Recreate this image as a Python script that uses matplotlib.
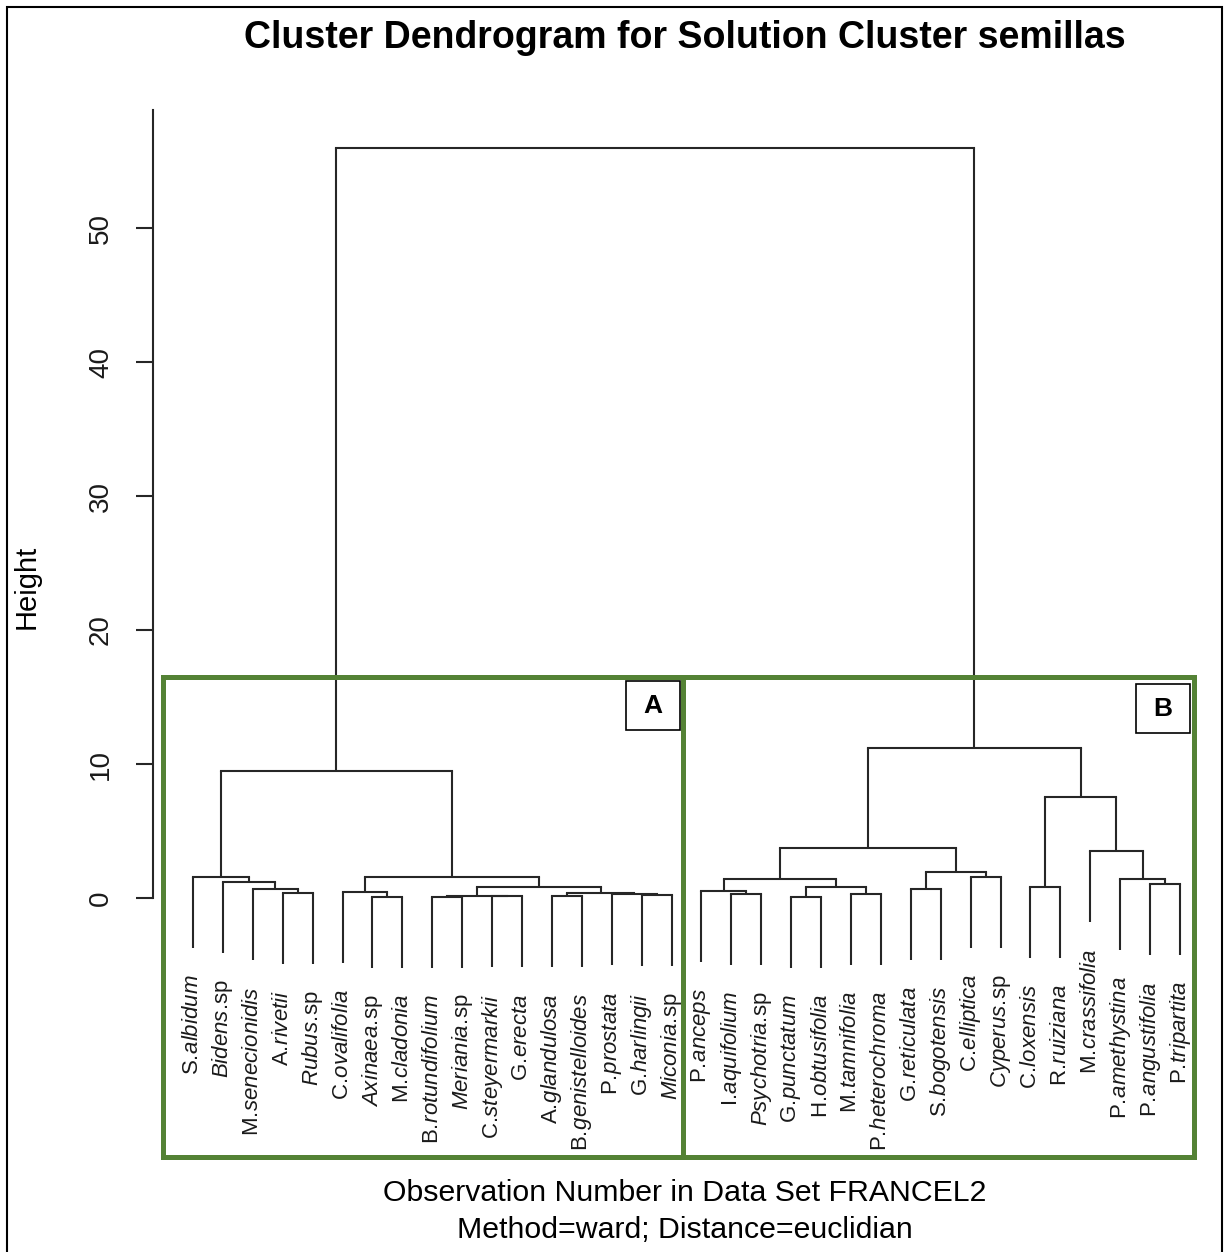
import numpy as np
import matplotlib
matplotlib.use("Agg")
import matplotlib.pyplot as plt
from matplotlib.patches import Rectangle

plt.rcParams['font.family'] = ['Liberation Sans', 'DejaVu Sans']
plt.rcParams['mathtext.fontset'] = 'custom'
plt.rcParams['mathtext.rm'] = 'Liberation Sans'
plt.rcParams['mathtext.it'] = 'Liberation Sans:italic'

# leaf order of the dendrogram
especies = ["S.albidum", "Bidens.sp", "M.senecionidis", "A.rivetii", "Rubus.sp",
            "C.ovalifolia", "Axinaea.sp", "M.cladonia", "B.rotundifolium",
            "Meriania.sp", "C.steyermarkii", "G.erecta", "A.glandulosa",
            "B.genistelloides", "P.prostata", "G.harlingii", "Miconia.sp",
            "P.anceps", "I.aquifolium", "Psychotria.sp", "G.punctatum",
            "H.obtusifolia", "M.tamnifolia", "P.heterochroma", "G.reticulata",
            "S.bogotensis", "C.elliptica", "Cyperus.sp", "C.loxensis",
            "R.ruiziana", "M.crassifolia", "P.amethystina", "P.angustifolia",
            "P.tripartita"]

# merges: (left, right, height); str = leaf, int = earlier merge
fusiones = [
    ("A.rivetii", "Rubus.sp", 0.37),
    ("M.senecionidis", 0, 0.67),
    ("Bidens.sp", 1, 1.22),
    ("S.albidum", 2, 1.57),
    ("Axinaea.sp", "M.cladonia", 0.10),
    ("C.ovalifolia", 4, 0.45),
    ("B.rotundifolium", "Meriania.sp", 0.10),
    ("C.steyermarkii", "G.erecta", 0.12),
    (6, 7, 0.15),
    ("A.glandulosa", "B.genistelloides", 0.15),
    ("G.harlingii", "Miconia.sp", 0.20),
    ("P.prostata", 10, 0.28),
    (9, 11, 0.37),
    (8, 12, 0.82),
    (5, 13, 1.60),
    (3, 14, 9.48),
    ("I.aquifolium", "Psychotria.sp", 0.30),
    ("P.anceps", 16, 0.52),
    ("G.punctatum", "H.obtusifolia", 0.10),
    ("M.tamnifolia", "P.heterochroma", 0.30),
    (18, 19, 0.82),
    (17, 20, 1.42),
    ("G.reticulata", "S.bogotensis", 0.67),
    ("C.elliptica", "Cyperus.sp", 1.57),
    (22, 23, 1.94),
    (21, 24, 3.73),
    ("C.loxensis", "R.ruiziana", 0.82),
    ("P.angustifolia", "P.tripartita", 1.04),
    ("P.amethystina", 27, 1.42),
    ("M.crassifolia", 28, 3.50),
    (26, 29, 7.54),
    (25, 30, 11.20),
    (15, 31, 56.00),
]

yticks = [0, 10, 20, 30, 40, 50]
hang = 5.3

W, H = 1226, 1252
def fx(x):
    return x / W
def fy(y):
    return 1 - y / H

fig = plt.figure(figsize=(W / 100, H / 100), dpi=100)
ax = fig.add_axes([fx(153), fy(1160), (1200 - 153) / W, (1160 - 110) / H])

pos = {n: i + 1 for i, n in enumerate(especies)}
nodo_x = []
color = '#262626'
lw = 1.5

def nombre(n):
    # genus abbreviation upright, epithet italic; \! cancels the space mathtext puts after '.'
    if n.endswith(".sp"):
        return r"$\mathit{%s}\mathrm{.\!sp}$" % n[:-3]
    g, e = n.split(".", 1)
    return r"$\mathrm{%s.}\!\mathit{%s}$" % (g, e)

for a, b, h in fusiones:
    xs = []
    for c in (a, b):
        if isinstance(c, str):
            x = pos[c]
            y0 = h - hang
            ax.text(x, y0 - 1.95, nombre(c), rotation=90, ha='center', va='top',
                    fontsize=16, color='#1a1a1a', clip_on=False)
        else:
            x = nodo_x[c]
            y0 = fusiones[c][2]
        ax.plot([x, x], [y0, h], color=color, lw=lw, solid_capstyle='butt')
        xs.append(x)
    ax.plot(xs, [h, h], color=color, lw=lw, solid_capstyle='projecting')
    nodo_x.append(np.mean(xs))

ax.set_xlim(1 - 40 / 29.91, 34 + 20 / 29.91)
ax.set_ylim((898 - 1160) / 13.4, (898 - 110) / 13.4)
for s in ['top', 'right', 'bottom']:
    ax.spines[s].set_visible(False)
ax.spines['left'].set_bounds(0, (898 - 110) / 13.4)
ax.spines['left'].set_linewidth(1.5)
ax.spines['left'].set_color(color)
ax.set_xticks([])
ax.set_yticks(yticks)
ax.set_yticklabels([str(t) for t in yticks], rotation=90, va='center', fontsize=20,
                   color='#1a1a1a')
ax.tick_params(axis='y', length=12, width=1.5, color=color, pad=16)
ax.patch.set_visible(False)

fig.text(fx(685), fy(38), "Cluster Dendrogram for Solution Cluster semillas",
         fontsize=27, fontweight='bold', ha='center', va='center')
fig.text(fx(27), fy(587), "Height", rotation=90, fontsize=21, ha='center', va='center')
fig.text(fx(685), fy(1193), "Observation Number in Data Set FRANCEL2",
         fontsize=21.8, ha='center', va='center')
fig.text(fx(685), fy(1230), "Method=ward; Distance=euclidian",
         fontsize=21.8, ha='center', va='center')

# group frames
verde = '#548235'
for x0, x1 in [(163, 683), (683, 1194)]:
    fig.add_artist(Rectangle((fx(x0), fy(1157)), (x1 - x0) / W, (1157 - 677) / H,
                             transform=fig.transFigure, fill=False, ec=verde,
                             lw=3.6, zorder=5))

for letra, x0, y0 in [("A", 626, 681), ("B", 1136, 684)]:
    fig.add_artist(Rectangle((fx(x0), fy(y0 + 49)), 54 / W, 49 / H,
                             transform=fig.transFigure, fc='white', ec='black',
                             lw=1.2, zorder=6))
    fig.text(fx(x0 + 27), fy(y0 + 25), letra, fontsize=19, fontweight='bold',
             ha='center', va='center', zorder=7)

# outer frame
fig.add_artist(Rectangle((fx(7), -0.02), (1222 - 7) / W, fy(7) + 0.02,
                         transform=fig.transFigure, fill=False, ec='black',
                         lw=1.5, zorder=8))

fig.savefig("out.png", dpi=100)
